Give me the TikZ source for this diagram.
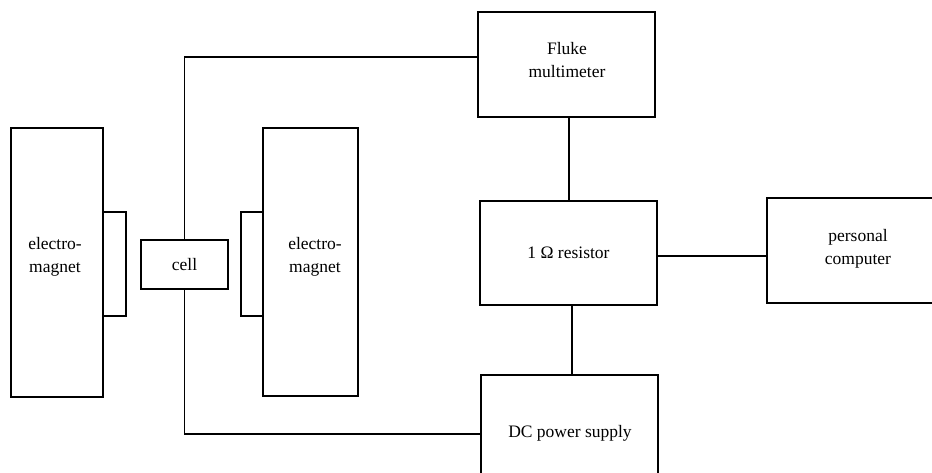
\documentclass[tikz,border=0pt]{standalone}
\usepackage{fontspec}
\setmainfont{Liberation Serif}
\begin{document}
\begin{tikzpicture}[x=1pt,y=-1pt,
  box/.style={draw,line width=1.4pt,rectangle,inner sep=0pt,align=center,
    font=\fontsize{17.5}{23}\selectfont},
  txt/.style={inner sep=0pt,align=center,font=\fontsize{17.5}{23}\selectfont},
  wire/.style={line width=1.4pt}]
\useasboundingbox (0,0) rectangle (932,473);
\clip (0,0) rectangle (932,473);
% electromagnets and pole pieces
\node[box,minimum width=23pt,minimum height=104pt] (poleL) at (114.5,264) {};
\node[box,minimum width=92pt,minimum height=269pt] (emL) at (57,262.5) {};
\node[txt] (emLt) at (55,257) {electro-\\magnet};
\node[box,minimum width=22pt,minimum height=104pt] (poleR) at (252,264) {};
\node[box,minimum width=95pt,minimum height=268pt] (emR) at (310.5,262) {};
\node[txt] (emRt) at (315,257) {electro-\\magnet};
\node[box,minimum width=87pt,minimum height=49pt] (cell) at (184.5,264.5) {cell};
% instruments
\node[box,minimum width=177pt,minimum height=105pt] (fluke) at (566.5,64.5) {};
\node[txt] (fluket) at (567,60) {Fluke\\multimeter};
\node[box,minimum width=177pt,minimum height=104pt] (res) at (568.5,253) {1 Ω resistor};
\node[box,minimum width=177pt,minimum height=125pt] (dc) at (569.5,437.5) {};
\node[txt] (dct) at (570,433) {DC power supply};
\node[box,minimum width=193pt,minimum height=105pt] (pc) at (863.5,250.5) {};
\node[txt] (pct) at (858,249) {personal\\computer};
% connector anchor points
\coordinate (flin) at (478,57);
\coordinate (dcin) at (481,434);
\coordinate (flout) at (569,117);
\coordinate (resin) at (569,201);
\coordinate (resout) at (572,305);
\coordinate (dctop) at (572,375);
\coordinate (resr) at (657,256);
\coordinate (pcin) at (767,256);
% wires
\draw[wire] (cell.north) |- (flin);
\draw[wire] (cell.south) |- (dcin);
\draw[wire] (flout) -- (resin);
\draw[wire] (resout) -- (dctop);
\draw[wire] (resr) -- (pcin);
\end{tikzpicture}
\end{document}
